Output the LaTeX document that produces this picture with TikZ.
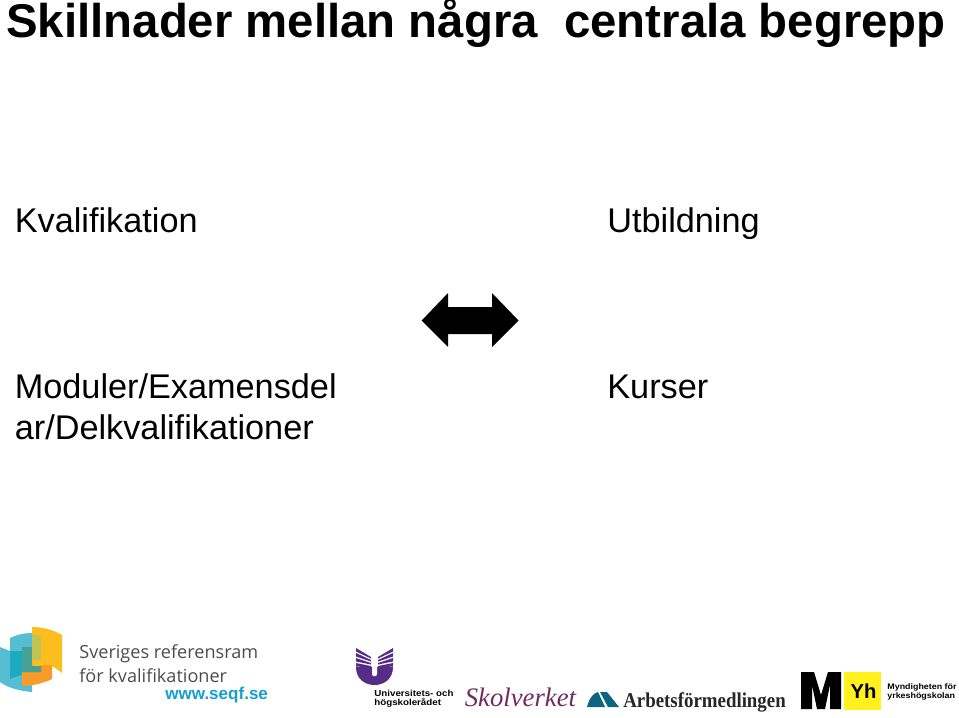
\documentclass[tikz,border=0pt]{standalone}
\usepackage{fontspec}
\setmainfont{Liberation Sans}
\newfontfamily\logosans{Open Sans}
\newfontfamily\logoserif{Liberation Serif}
\definecolor{seqfblue}{RGB}{20,160,205}
\definecolor{seqfteal}{RGB}{85,190,210}
\definecolor{seqfdark}{RGB}{30,170,190}
\definecolor{seqfgreen}{RGB}{70,160,150}
\definecolor{seqfolive}{RGB}{195,195,85}
\definecolor{seqfyellow}{RGB}{252,190,30}
\definecolor{seqforange}{RGB}{248,155,40}
\definecolor{uhrpurple}{RGB}{85,45,135}
\definecolor{skolplum}{RGB}{110,45,95}
\definecolor{afblue}{RGB}{10,100,130}
\definecolor{yhyellow}{RGB}{255,240,30}
\tikzset{
  titletext/.style={anchor=base west, inner sep=0pt, font=\bfseries\fontsize{26.95}{30}\selectfont},
  bodytext/.style={anchor=base west, inner sep=0pt, font=\fontsize{19.5}{24}\selectfont},
  logotext/.style={anchor=base west, inner sep=0pt, text=black!70, font=\logosans\fontsize{10.3}{13}\selectfont},
  smalllogo/.style={anchor=base west, inner sep=0pt, xscale=1.11, font=\bfseries\fontsize{5}{6}\selectfont},
  tinylogo/.style={anchor=base west, inner sep=0pt, xscale=1.1, font=\bfseries\fontsize{4.6}{6}\selectfont},
}
\begin{document}
\begin{tikzpicture}[x=0.02cm, y=-0.02cm]
\useasboundingbox (0,0) rectangle (959,717);

\node[titletext] (title) at (6,37) {Skillnader mellan några\ \ centrala begrepp};

\node[bodytext] (kval) at (14.5,232) {Kvalifikation};
\node[bodytext] (utb) at (607,232) {Utbildning};
\node[bodytext] (mod) at (14.5,398) {Moduler/Examensdel};
\node[bodytext] (ar) at (14.5,439) {ar/Delkvalifikationer};
\node[bodytext] (kurs) at (607,398) {Kurser};

% double arrow
\fill (421.7,320.5) -- (448,293) -- (448,307) -- (492,307) -- (492,293) -- (518.5,320.5)
  -- (492,347) -- (492,334) -- (448,334) -- (448,347) -- cycle;

% seqf logo
\fill[seqfteal] (0,647) -- (10,651) -- (10,638) .. controls (16,635) and (24,633) .. (32,633) -- (32,692)
  .. controls (20,691) and (8,688) .. (0,682) -- cycle;
\fill[seqfdark] (10,651) -- (32,651) -- (32,674) .. controls (24,674) and (16,676) .. (10,679) -- cycle;
\fill[seqfyellow] (32,627) .. controls (42,627) and (54,630) .. (62,635) -- (62,673)
  .. controls (58,670) and (55,668) .. (52,666) -- (32,666) -- cycle;
\fill[seqforange] (22,672) -- (41,672) -- (41,665) -- (52,665) -- (52,679)
  .. controls (44,683) and (32,686) .. (22,686) -- cycle;
\fill[seqfgreen] (22,647) -- (32,647) -- (32,666) -- (41,666) -- (41,672) -- (22,672) -- cycle;
\fill[seqfolive] (32,634) -- (41,636) -- (41,660) -- (32,660) -- cycle;

\node[logotext] (sver) at (79,658) {Sveriges referensram};
\node[logotext] (kvalif) at (79,682) {för kvalifikationer};
\node[anchor=base west, inner sep=0pt, text=seqfblue, font=\bfseries\fontsize{9.7}{11}\selectfont] (www) at (165,699) {www.seqf.se};

% uhr logo
\fill[uhrpurple] (356,667) .. controls (356,679) and (365,685) .. (374.5,685)
  .. controls (384,685) and (393,679) .. (393,667) -- cycle;
\fill[white] (372,660) -- (377,660) -- (377,674) .. controls (377,677) and (372,677) .. (372,674) -- cycle;
\foreach \i in {0,1,2,3} {
  \fill[uhrpurple] (356,648+5*\i) -- (371,657+3*\i) -- (371,658.5+3*\i) -- (356,651.5+5*\i) -- cycle;
  \fill[uhrpurple] (393,648+5*\i) -- (378,657+3*\i) -- (378,658.5+3*\i) -- (393,651.5+5*\i) -- cycle;
}
\node[smalllogo] (uni) at (374,696) {Universitets- och};
\node[smalllogo] (hsk) at (374,705) {högskolerådet};

% skolverket
\node[anchor=base west, inner sep=0pt, text=skolplum, font=\logoserif\itshape\fontsize{15.2}{18}\selectfont] (skol) at (464.5,706) {Skolverket};

% arbetsformedlingen
\fill[afblue] (587,707) .. controls (589,699) and (593,693) .. (598,692) -- (605,707) -- cycle;
\fill[afblue] (600,692) -- (607,692) -- (619,707) -- (608,707) -- cycle;
\node[anchor=base west, inner sep=0pt, text=black!85, xscale=.895, font=\logoserif\bfseries\fontsize{12}{15}\selectfont] (af) at (623,707) {Arbetsförmedlingen};

% yh
\fill (801,709) -- (801,672) -- (814,672) -- (821,695) -- (828,672) -- (841,672) -- (841,709) -- (830,709)
  -- (830,685) -- (825,709) -- (817,709) -- (812,685) -- (812,709) -- cycle;
\fill[yhyellow] (844,672) rectangle (881,710);
\node[inner sep=0pt, font=\bfseries\fontsize{11.5}{15}\selectfont] (yh) at (863.5,691) {Yh};
\node[tinylogo] (myn) at (887,689) {Myndigheten för};
\node[tinylogo] (yrk) at (887,698) {yrkeshögskolan};

\end{tikzpicture}
\end{document}
